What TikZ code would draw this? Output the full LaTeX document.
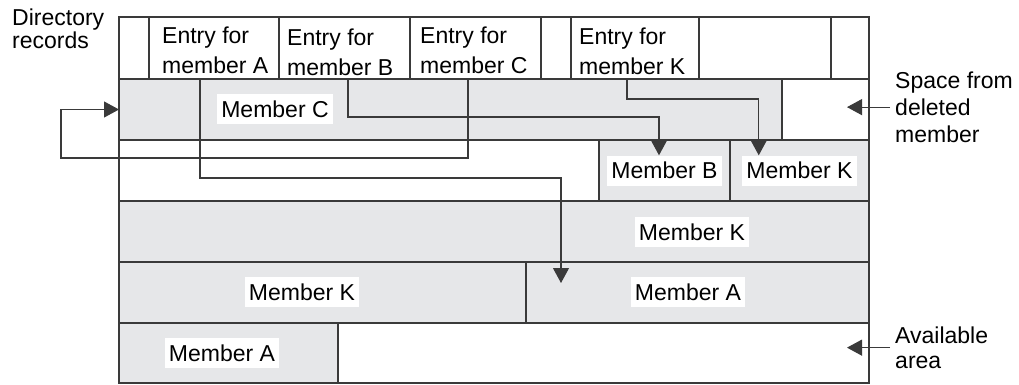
\documentclass[tikz,border=0pt]{standalone}
\usepackage{fontspec}
\setmainfont{Liberation Sans}
\usetikzlibrary{arrows.meta}
\definecolor{memgray}{HTML}{E6E7E9}
\definecolor{rulegray}{HTML}{3A3A3A}

\begin{document}
\begin{tikzpicture}[x=1pt, y=-1pt,
  font=\fontsize{23}{27}\selectfont,
  cell/.style={draw=rulegray, line width=1.3pt, inner sep=0pt, outer sep=0pt},
  memlabel/.style={fill=white, inner xsep=4pt, inner ysep=0pt, minimum height=30pt},
  note/.style={align=left, inner xsep=5pt, inner ysep=0pt, anchor=north west},
  link/.style={draw=rulegray, line width=1.1pt, -{Triangle[length=15pt, width=16pt]}}]
  \useasboundingbox (0,0) rectangle (1019,385);

  % Directory records row
  \foreach \n/\xa/\xb in {d0/119/149, entA/149/279, entB/279/410, entC/410/541,
    d1/541/571, entK/571/699, d2/699/831, d3/831/869}
    \node[cell, minimum width=(\xb-\xa)*1pt, minimum height=62pt] (\n) at ({(\xa+\xb)/2},48) {};
  \node[note, inner xsep=0pt, font=\fontsize{23}{23}\selectfont] at (12,8.5) {Directory\\records};
  \node[note, anchor=west, inner xsep=0pt, font=\fontsize{23}{30}\selectfont]
    at ([xshift=13pt, yshift=-2.5pt]entA.west) {Entry for\\member A};
  \node[note, anchor=west, inner xsep=0pt, font=\fontsize{23}{30}\selectfont]
    at ([xshift=8pt, yshift=-4.5pt]entB.west) {Entry for\\member B};
  \node[note, anchor=west, inner xsep=0pt, font=\fontsize{23}{30}\selectfont]
    at ([xshift=10pt, yshift=-2.5pt]entC.west) {Entry for\\member C};
  \node[note, anchor=west, inner xsep=0pt, font=\fontsize{23}{30}\selectfont]
    at ([xshift=8pt, yshift=-3.5pt]entK.west) {Entry for\\member K};

  % Member rows
  \foreach \n/\xa/\xb/\ya/\yb/\c in {
    memC/119/782/79/140/memgray, gap/782/869/79/140/white,
    free/119/599/140/201/white, memB/599/730/140/201/memgray, memKa/730/869/140/201/memgray,
    memKb/119/869/201/262/memgray,
    memKc/119/526/262/323/memgray, memAa/526/869/262/323/memgray,
    memAb/119/338/323/383/memgray, avail/338/869/323/383/white}
    \node[cell, fill=\c, minimum width=(\xb-\xa)*1pt, minimum height=(\yb-\ya)*1pt]
      (\n) at ({(\xa+\xb)/2},{(\ya+\yb)/2}) {};

  \node[memlabel] (lblC) at (275,109.5) {Member C};
  \node[memlabel] (lblB) at (memB) {Member B};
  \node[memlabel] (lblKa) at (memKa) {Member K};
  \node[memlabel] (lblKb) at (692,232) {Member K};
  \node[memlabel] (lblKc) at (302,292) {Member K};
  \node[memlabel] (lblAa) at (688,292) {Member A};
  \node[memlabel] (lblAb) at (222,353) {Member A};

  % Notes on the right
  \node[note] (spc) at (890,71.5) {Space from\\deleted\\member};
  \node[note, font=\fontsize{23}{25}\selectfont] (avl) at (890,326.5) {Available\\area};

  % Pointers from the directory entries
  \coordinate (tipA) at (561,283);
  \draw[link] ([xshift=-14pt]entA.south) -- ++(0,99) -| (tipA);
  \draw[link] ([xshift=3.5pt]entB.south) -- ++(0,38) -| ([xshift=-5.5pt]lblB.north);
  \draw[link] ([xshift=-7.5pt]entC.south) -- ++(0,79) -| ([xshift=-58pt]memC.west) -- (memC.west);
  \draw[link] ([xshift=-8pt]entK.south) -- ++(0,20) -| ([xshift=16.5pt]lblKa.north west);
  \draw[link] (spc.west) -- ++(-43,0);
  \draw[link] (avl.west) -- ++(-43,0);
\end{tikzpicture}
\end{document}
